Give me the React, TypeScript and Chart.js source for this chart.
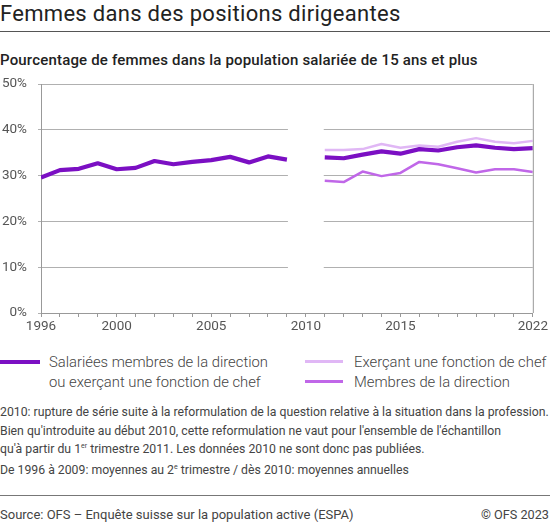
import React, { useEffect, useRef } from "react";
import { Chart, registerables } from "chart.js";

Chart.register(...registerables);

const years = [1996, 1997, 1998, 1999, 2000, 2001, 2002, 2003, 2004, 2005, 2006, 2007, 2008, 2009, 2010, 2011, 2012, 2013, 2014, 2015, 2016, 2017, 2018, 2019, 2020, 2021, 2022];
const totalValues = [29.6, 31.2, 31.5, 32.7, 31.4, 31.7, 33.2, 32.5, 33.0, 33.4, 34.1, 32.9, 34.2, 33.5, null, 34.0, 33.8, 34.6, 35.3, 34.8, 35.8, 35.5, 36.2, 36.6, 36.1, 35.8, 36.0];
const chefValues = [null, null, null, null, null, null, null, null, null, null, null, null, null, null, null, 35.6, 35.6, 35.8, 36.9, 36.1, 36.6, 36.3, 37.4, 38.2, 37.4, 37.1, 37.6];
const directionValues = [null, null, null, null, null, null, null, null, null, null, null, null, null, null, null, 28.9, 28.6, 30.9, 29.9, 30.6, 33.0, 32.5, 31.6, 30.7, 31.4, 31.4, 30.8];
const labeledYears = [1996, 2000, 2005, 2010, 2015, 2022];
const seriesNames = ["Salariées membres de la direction ou exerçant une fonction de chef", "Exerçant une fonction de chef", "Membres de la direction"];
const colors = ["#7b0fc3", "#e0b7f5", "#c067e8"];

const FONT = "Roboto, 'Noto Sans', sans-serif";

const gapPlugin = {
  id: "gapPlugin",
  beforeDatasetsDraw(chart: any) {
    const { ctx, chartArea, scales } = chart;
    const x1 = scales.x.getPixelForValue(2009);
    const x2 = scales.x.getPixelForValue(2011);
    ctx.save();
    ctx.fillStyle = "#ffffff";
    ctx.fillRect(x1 + 1, chartArea.top + 1, x2 - x1 - 2, chartArea.bottom - chartArea.top - 2);
    ctx.restore();
  },
};

const framePlugin = {
  id: "frame",
  afterDraw(chart: any) {
    const { ctx, chartArea } = chart;
    ctx.save();
    ctx.strokeStyle = "#999";
    ctx.lineWidth = 1;
    ctx.beginPath();
    ctx.moveTo(chartArea.right + 0.5, chartArea.top);
    ctx.lineTo(chartArea.right + 0.5, chartArea.bottom);
    ctx.stroke();
    ctx.restore();
  },
};

function pts(vals: (number | null)[]) {
  return years.map((y, i) => ({ x: y, y: vals[i] }));
}

function LineChart() {
  const ref = useRef<HTMLCanvasElement | null>(null);
  useEffect(() => {
    if (!ref.current) return;
    const chart = new Chart(ref.current, {
      type: "line",
      data: {
        datasets: [
          { label: seriesNames[1], data: pts(chefValues), borderColor: colors[1], borderWidth: 2.5, pointRadius: 0, spanGaps: false },
          { label: seriesNames[2], data: pts(directionValues), borderColor: colors[2], borderWidth: 2.5, pointRadius: 0, spanGaps: false },
          { label: seriesNames[0], data: pts(totalValues), borderColor: colors[0], borderWidth: 4.2, pointRadius: 0, spanGaps: false },
        ] as any,
      },
      options: {
        animation: false,
        responsive: false,
        maintainAspectRatio: false,
        layout: { padding: { top: 10, right: 17, left: 0, bottom: 0 } },
        plugins: { legend: { display: false }, tooltip: { enabled: false } },
        elements: { line: { borderJoinStyle: "round", borderCapStyle: "butt", tension: 0 } },
        scales: {
          x: {
            type: "linear",
            min: 1996,
            max: 2022,
            afterFit(scale: any) { scale.height = 22; },
            ticks: {
              stepSize: 1,
              autoSkip: false,
              maxRotation: 0,
              padding: 2,
              color: "#555",
              font: { family: FONT, size: 13.5 },
              callback: (v: any) => (labeledYears.includes(Number(v)) ? String(v) : ""),
            },
            grid: { drawOnChartArea: false, color: "#999", tickLength: 4, tickColor: "#999" },
            border: { color: "#999" },
          },
          y: {
            min: 0,
            max: 50,
            afterFit(scale: any) { scale.width = 41; },
            ticks: { stepSize: 10, color: "#555", padding: 11, font: { family: FONT, size: 13.5 }, callback: (v: any) => v + "%" },
            grid: { color: "#b0b0b0", tickLength: 3, tickColor: "#b0b0b0" },
            border: { color: "#999" },
          },
        } as any,
      },
      plugins: [gapPlugin, framePlugin],
    });
    return () => chart.destroy();
  }, []);
  return <canvas ref={ref} width={550} height={270} style={{ position: "absolute", left: 0, top: 65, width: 550, height: 270 }} />;
}

export default function App() {
  const legendText: React.CSSProperties = { position: "absolute", fontSize: 14.8, color: "#444", fontWeight: 300, lineHeight: "20px", whiteSpace: "nowrap" };
  const note: React.CSSProperties = { position: "absolute", left: 0, fontSize: 12.25, color: "#444", lineHeight: "18px", height: 18, whiteSpace: "nowrap" };
  const sup: React.CSSProperties = { fontSize: 7, verticalAlign: "top", lineHeight: "12px", position: "relative", top: 0 };
  return (
    <div style={{ position: "fixed", left: 0, top: 0, width: 550, height: 523, background: "#fff", fontFamily: FONT, overflow: "hidden" }}>
      <div style={{ position: "absolute", left: 0, top: 0, fontSize: 22, letterSpacing: 0.3, color: "#222", whiteSpace: "nowrap", lineHeight: "28px" }}>Femmes dans des positions dirigeantes</div>
      <div style={{ position: "absolute", left: 0, top: 31, width: 550, height: 1, background: "#555" }} />
      <div style={{ position: "absolute", left: 0, top: 50, fontSize: 15, letterSpacing: 0.18, fontWeight: 500, color: "#222", whiteSpace: "nowrap", lineHeight: "20px" }}>Pourcentage de femmes dans la population salariée de 15 ans et plus</div>
      <LineChart />
      <div style={{ position: "absolute", left: 0, top: 360, width: 40, height: 4, background: colors[0] }} />
      <div style={{ ...legendText, left: 49, top: 352 }}>Salariées membres de la direction<br />ou exerçant une fonction de chef</div>
      <div style={{ position: "absolute", left: 305, top: 360, width: 38, height: 3, background: colors[1] }} />
      <div style={{ ...legendText, left: 354, top: 352 }}>{seriesNames[1]}</div>
      <div style={{ position: "absolute", left: 305, top: 380, width: 38, height: 3, background: colors[2] }} />
      <div style={{ ...legendText, left: 354, top: 372 }}>{seriesNames[2]}</div>
      <div style={{ ...note, top: 403 }}>2010: rupture de série suite à la reformulation de la question relative à la situation dans la profession.</div>
      <div style={{ ...note, top: 421.5 }}>Bien qu'introduite au début 2010, cette reformulation ne vaut pour l'ensemble de l'échantillon</div>
      <div style={{ ...note, top: 440 }}>qu'à partir du 1<span style={sup}>er</span> trimestre 2011. Les données 2010 ne sont donc pas publiées.</div>
      <div style={{ ...note, top: 461 }}>De 1996 à 2009: moyennes au 2<span style={sup}>e</span> trimestre / dès 2010: moyennes annuelles</div>
      <div style={{ position: "absolute", left: 0, top: 495, width: 550, height: 1, background: "#777" }} />
      <div style={{ ...note, top: 506, fontSize: 13 }}>Source: OFS – Enquête suisse sur la population active (ESPA)</div>
      <div style={{ ...note, left: "auto", right: 1, top: 506, fontSize: 12.7 }}>© OFS 2023</div>
    </div>
  );
}
